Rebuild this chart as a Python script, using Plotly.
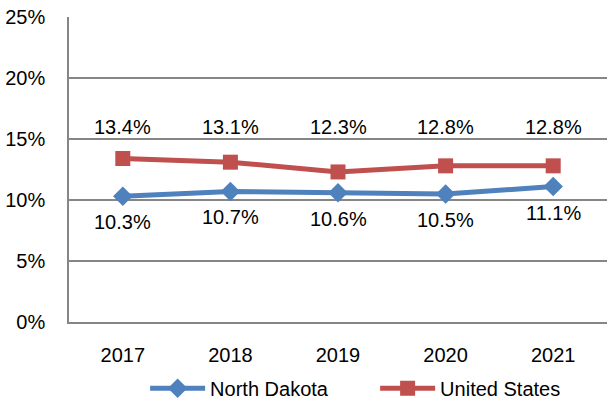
import plotly.graph_objects as go

years = ["2017", "2018", "2019", "2020", "2021"]
north_dakota = [10.3, 10.7, 10.6, 10.5, 11.1]
united_states = [13.4, 13.1, 12.3, 12.8, 12.8]
y_ticks = [0, 5, 10, 15, 20, 25]
y_tick_labels = ["0%", "5%", "10%", "15%", "20%", "25%"]

BLUE = "#4F81BD"
RED = "#C0504D"
FONT = "Liberation Sans, Arial, sans-serif"
FS = 20
US_LABEL_Y = 16.0  # US labels sit on a common row above the lines

fig = go.Figure()
fig.add_trace(go.Scatter(
    x=years, y=north_dakota, name="North Dakota", mode="lines+markers",
    line=dict(color=BLUE, width=5),
    marker=dict(symbol="diamond", size=15, color=BLUE),
))
fig.add_trace(go.Scatter(
    x=years, y=united_states, name="United States", mode="lines+markers",
    line=dict(color=RED, width=5),
    marker=dict(symbol="square", size=15, color=RED),
))

annotations = []
for i, v in enumerate(united_states):
    annotations.append(dict(x=i, y=US_LABEL_Y, xref="x", yref="y", text=f"{v:.1f}%", showarrow=False,
                            font=dict(size=FS, color="#000", family=FONT)))
for i, v in enumerate(north_dakota):
    annotations.append(dict(x=i, y=v, xref="x", yref="y", text=f"{v:.1f}%", showarrow=False,
                            yshift=-26, font=dict(size=FS, color="#000", family=FONT)))

fig.update_layout(
    width=607, height=404,
    margin=dict(l=69, r=0, t=17, b=82, autoexpand=False),
    paper_bgcolor="white", plot_bgcolor="white",
    font=dict(family=FONT, size=FS, color="#000"),
    annotations=annotations,
    showlegend=True,
    legend=dict(orientation="h", x=0.569, xanchor="center", y=-0.217, yanchor="middle",
                font=dict(size=FS, family=FONT), itemwidth=55, tracegroupgap=0,
                entrywidth=160, entrywidthmode="pixels"),
    xaxis=dict(type="category", range=[-0.5, 4.5], showgrid=False, automargin=False,
               showline=True, linecolor="#868686", linewidth=1.5,
               ticks="", ticklabelstandoff=14, tickfont=dict(size=FS)),
    yaxis=dict(range=[0, 25], tickvals=y_ticks, ticktext=y_tick_labels, automargin=False,
               showgrid=True, gridcolor="#868686", gridwidth=1.5,
               showline=True, linecolor="#868686", linewidth=1.5,
               zeroline=False, ticks="", ticklabelstandoff=18, tickfont=dict(size=FS)),
)

fig.write_html("out.html", config={"displayModeBar": False},
               post_script="document.body.style.margin='0';document.body.style.overflow='hidden';")
